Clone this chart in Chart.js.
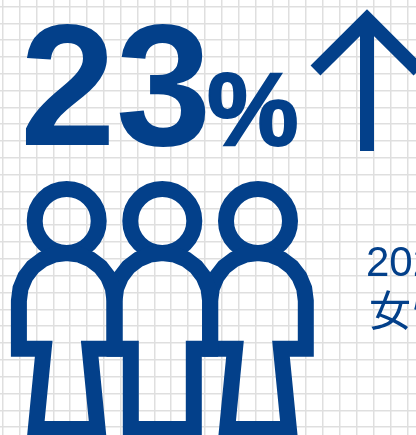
<!DOCTYPE html>
<html>
<head>
<meta charset="utf-8">
<title>23%</title>
<style>
  html, body { margin: 0; padding: 0; background: #fff; overflow: hidden; }
  canvas { display: block; }
</style>
<script src="https://cdn.jsdelivr.net/npm/chart.js@4/dist/chart.umd.min.js"></script>
</head>
<body>
<canvas id="grafico" width="416" height="435"></canvas>
<script>
const azul = '#03408a';
const rejilla = '#dfdfdf';

// lineas de la cuadricula
const ticksX = [3, 20, 37, 54, 70, 87, 104, 121, 138, 155, 171, 188, 205, 222, 239, 256, 273, 289, 306, 323, 340, 357, 374, 391, 408];
const ticksY = [7, 24, 40, 57, 74, 91, 108, 124, 141, 158, 175, 192, 209, 225, 242, 259, 276, 293, 310, 326, 343, 360, 377, 394, 411, 427];

// flecha
const flechaAsta = [{ x: 367, y: 151 }, { x: 367, y: 20 }];
const flechaPunta = [{ x: 315.5, y: 70.5 }, { x: 367, y: 19.2 }, { x: 418.5, y: 70.5 }];

// personas: centro de cada una y contorno relativo a ese centro
const personasX = [66.7, 162.3, 258];
const cabezaY = 221;
const cabezaRadio = 32;
const cuerpoY = [429, 429, 348.7, 348.7, 300.8, 288.4, 276.9, 267, 259.4, 254.6, 253, 254.6, 259.4, 267, 276.9, 288.4, 300.8, 348.7, 348.7, 429, 429];
const cuerpoConico = [0, 30.9, 23, 47.8, 47.8, 46.2, 41.4, 33.8, 23.9, 12.4, 0, -12.4, -23.9, -33.8, -41.4, -46.2, -47.8, -47.8, -23, -30.9, 0];
const cuerpoRecto = [0, 31.5, 31.5, 47.8, 47.8, 46.2, 41.4, 33.8, 23.9, 12.4, 0, -12.4, -23.9, -33.8, -41.4, -46.2, -47.8, -47.8, -31.5, -31.5, 0];
const cuerpos = [cuerpoConico, cuerpoRecto, cuerpoConico];

const textos = [
  { texto: '23', x: 20, y: 145, fuente: 'bold 172px "Liberation Sans"', trazo: 0, espacio: '0px' },
  { texto: '%', x: 207, y: 145, fuente: 'bold 103px "Liberation Sans"', trazo: 2, espacio: '0px' },
  { texto: '202', x: 366, y: 276, fuente: '42px "Liberation Sans"', trazo: 0, espacio: '0px' },
  { texto: '女性', x: 369, y: 326, fuente: '42px "Noto Sans CJK JP"', trazo: 0, espacio: '2px' }
];

function linea(puntos, ancho) {
  return {
    type: 'line',
    data: puntos,
    borderColor: azul,
    borderWidth: ancho,
    borderJoinStyle: 'miter',
    borderCapStyle: 'butt',
    pointRadius: 0,
    tension: 0,
    fill: false,
    clip: false
  };
}

const datasets = [linea(flechaAsta, 14), linea(flechaPunta, 14)];
personasX.forEach((centro, n) => {
  const puntos = cuerpos[n].map((x, i) => ({ x: centro + x, y: cuerpoY[i] }));
  datasets.push(linea(puntos, 16));
});
datasets.push({
  type: 'scatter',
  data: personasX.map(x => ({ x: x, y: cabezaY })),
  pointStyle: 'circle',
  pointRadius: cabezaRadio,
  pointHoverRadius: cabezaRadio,
  pointBorderWidth: 16,
  pointBackgroundColor: 'rgba(0,0,0,0)',
  pointBorderColor: azul,
  clip: false
});

const textoPlugin = {
  id: 'textos',
  afterDatasetsDraw(chart) {
    const { ctx, scales } = chart;
    ctx.save();
    ctx.fillStyle = azul;
    ctx.strokeStyle = azul;
    ctx.textBaseline = 'alphabetic';
    textos.forEach(t => {
      const x = scales.x.getPixelForValue(t.x);
      const y = scales.y.getPixelForValue(t.y);
      ctx.font = t.fuente;
      ctx.letterSpacing = t.espacio;
      ctx.fillText(t.texto, x, y);
      if (t.trazo) {
        ctx.lineWidth = t.trazo;
        ctx.strokeText(t.texto, x, y);
      }
    });
    ctx.restore();
  }
};

function eje(min, max, ticks, reverse) {
  return {
    type: 'linear',
    min: min,
    max: max,
    reverse: reverse,
    afterBuildTicks(scale) { scale.ticks = ticks.map(v => ({ value: v })); },
    border: { display: false },
    grid: { color: rejilla, lineWidth: 1.5, drawTicks: false },
    ticks: { display: false }
  };
}

new Chart(document.getElementById('grafico'), {
  type: 'scatter',
  data: { datasets: datasets },
  options: {
    responsive: false,
    animation: false,
    layout: { padding: 0, autoPadding: false },
    plugins: { legend: { display: false }, tooltip: { enabled: false } },
    scales: {
      x: eje(0, 416, ticksX, false),
      y: eje(0, 435, ticksY, true)
    }
  },
  plugins: [textoPlugin]
});
</script>
</body>
</html>
